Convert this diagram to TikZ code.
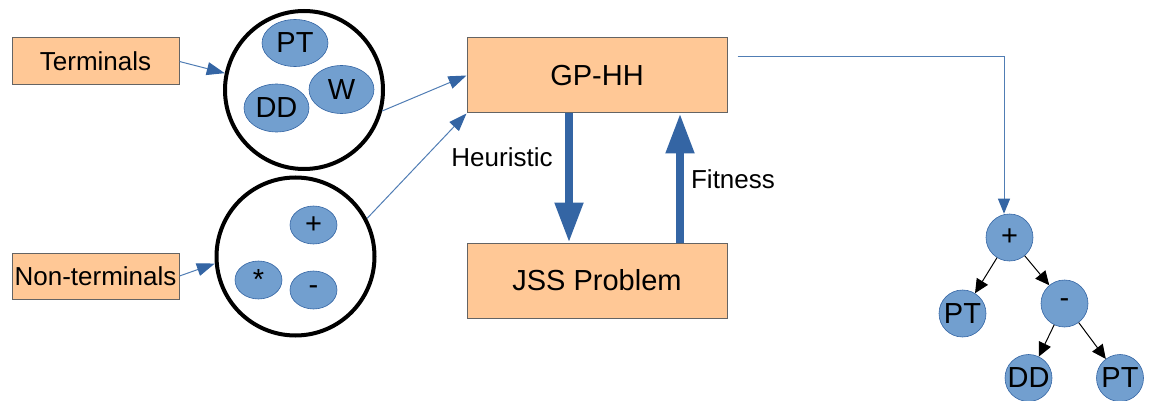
\documentclass[tikz,border=0pt]{standalone}
\usepackage{fontspec}
\setmainfont{Liberation Sans}
\usetikzlibrary{arrows.meta,shapes.geometric}
\definecolor{boxfill}{RGB}{255,200,150}
\definecolor{boxline}{RGB}{100,100,100}
\definecolor{ellfill}{RGB}{114,159,207}
\definecolor{ellline}{RGB}{52,101,164}
\definecolor{arrblue}{RGB}{52,101,164}
\definecolor{linblue}{RGB}{80,125,180}
\tikzset{
  lbl/.style={font=\fontsize{26}{30}\selectfont},
  biglbl/.style={font=\fontsize{29}{33}\selectfont},
  box/.style={draw=boxline, fill=boxfill, line width=1pt, inner sep=0pt},
  bigcirc/.style={draw=black, line width=4pt, circle, minimum size=158pt, inner sep=0pt},
  ell/.style={ellipse, draw=ellline, fill=ellfill, line width=0.6pt, inner sep=0pt, biglbl},
  tnode/.style={circle, draw=ellline, fill=ellfill, line width=0.6pt, minimum size=47pt, inner sep=0pt, biglbl},
  thin arrow/.style={draw=linblue, line width=1pt, -{Triangle[length=18pt,width=13pt,color=arrblue]}},
  fat arrow/.style={draw=arrblue, line width=8pt, -{Triangle[length=40pt,width=27pt]}},
  tree arrow/.style={draw=black, line width=1pt, -{Triangle[length=14pt,width=13pt]}},
}
\begin{document}
\begin{tikzpicture}[x=1pt,y=-1pt]
\useasboundingbox (0,0) rectangle (1149,401);
% left boxes
\node[box, lbl, minimum width=167pt, minimum height=47pt] (term) at (95.5,61.5) {Terminals};
\node[box, lbl, minimum width=167pt, minimum height=46pt] (nonterm) at (95.5,276) {Non-terminals};
% circles
\node[bigcirc] (tset) at (304,90) {};
\node[bigcirc] (nset) at (295.5,256.5) {};
\node[ell, minimum width=66pt, minimum height=47pt] (pt) at (295,43) {PT};
\node[ell, minimum width=65pt, minimum height=48pt] (w) at (341.5,89.5) {W};
\node[ell, minimum width=65pt, minimum height=48pt] (dd) at (276.5,108) {DD};
\node[ell, minimum width=47pt, minimum height=38pt] (plus) at (313.5,225) {+};
\node[ell, minimum width=47pt, minimum height=38pt] (times) at (258.5,280) {*};
\node[ell, minimum width=47pt, minimum height=38pt] (minus) at (313.5,290) {-};
% main boxes
\node[box, biglbl, minimum width=260pt, minimum height=75pt] (gphh) at (597,75.5) {GP-HH};
\node[box, biglbl, minimum width=260pt, minimum height=75pt] (jss) at (597,280.5) {JSS Problem};
% thin arrows
\draw[thin arrow] (term.east) -- (tset.168);
\draw[thin arrow] (nonterm.east) -- (nset.185);
\draw[thin arrow] (tset.-15) -- (gphh.west);
\draw[thin arrow] (nset.28) -- (gphh.south west);
% fat arrows
\draw[fat arrow] (gphh.south -| 569,0) -- (jss.north -| 569,0);
\draw[fat arrow] (jss.north -| 680,0) -- (gphh.south -| 680,0);
\node[lbl] (heur) at (502,157) {Heuristic};
\node[lbl] (fit) at (733,179) {Fitness};
% tree
\node[tnode] (r) at (1009.5,237.5) {+};
\node[tnode] (l) at (962.5,313.5) {PT};
\node[tnode] (m) at (1064.5,303.5) {-};
\node[tnode] (ml) at (1028.5,378) {DD};
\node[tnode] (mr) at (1120,378) {PT};
\coordinate (corner) at (1004,57);
\draw[draw=linblue, line width=1pt, -{Triangle[length=15pt,width=12pt,color=arrblue]}] (gphh.east |- 0,57) ++(10,0) -- (corner) -- (r.north -| 1004,0);
\draw[tree arrow] (r) -- (l);
\draw[tree arrow] (r) -- (m);
\draw[tree arrow] (m) -- (ml);
\draw[tree arrow] (m) -- (mr);
\end{tikzpicture}
\end{document}
